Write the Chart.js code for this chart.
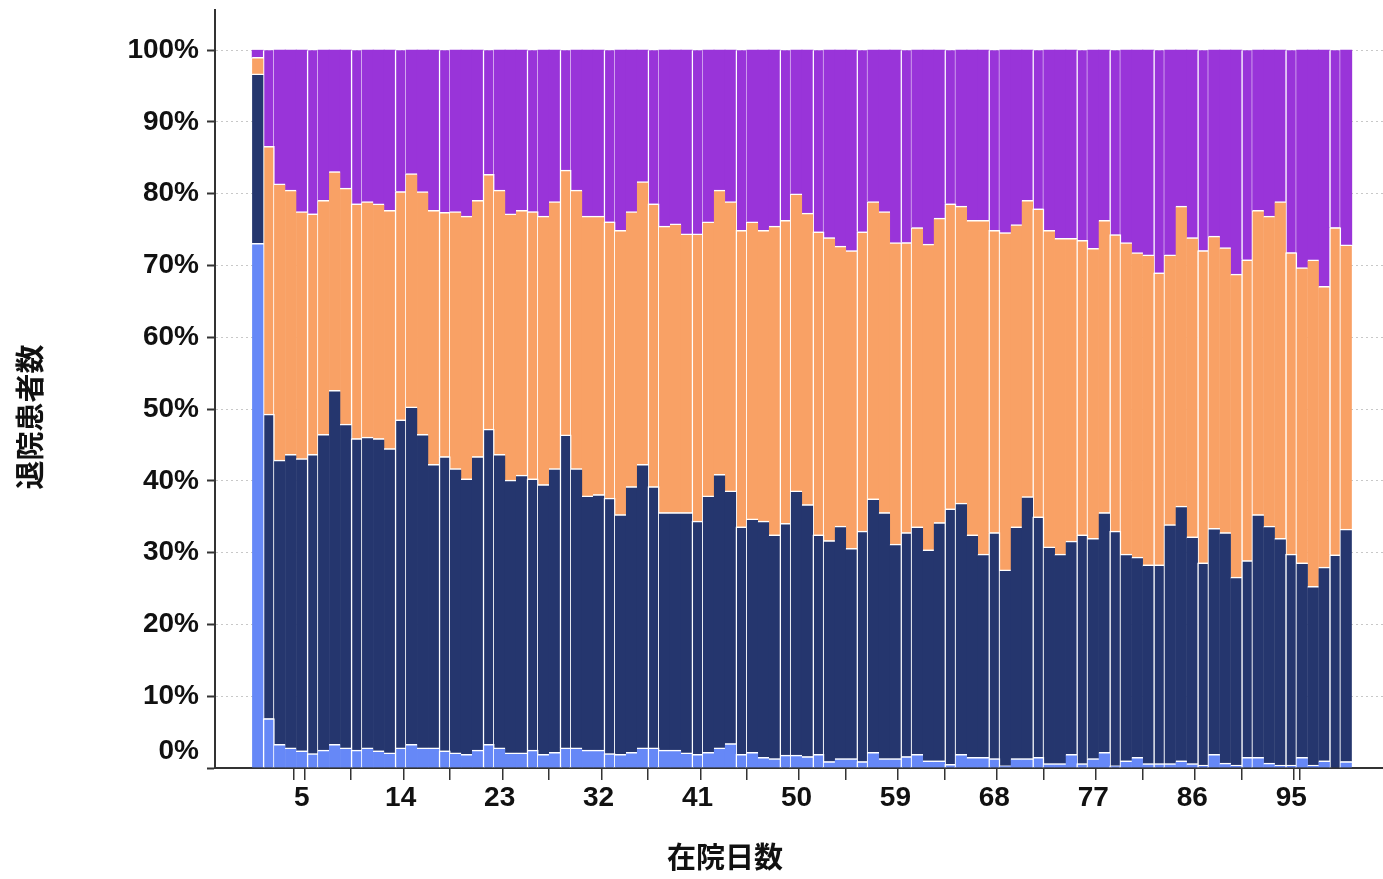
<!DOCTYPE html>
<html lang="ja">
<head>
<meta charset="utf-8">
<title>在院日数別 退院患者数</title>
<script src="https://cdn.jsdelivr.net/npm/chart.js@4.4.1/dist/chart.umd.min.js"></script>
<style>
  html, body { margin: 0; padding: 0; background: #fff; }
</style>
</head>
<body>
<canvas id="chart" width="1383" height="879"></canvas>
<script>
// 在院日数 1..100
const days = [
  1, 2, 3, 4, 5, 6, 7, 8, 9, 10,
  11, 12, 13, 14, 15, 16, 17, 18, 19, 20,
  21, 22, 23, 24, 25, 26, 27, 28, 29, 30,
  31, 32, 33, 34, 35, 36, 37, 38, 39, 40,
  41, 42, 43, 44, 45, 46, 47, 48, 49, 50,
  51, 52, 53, 54, 55, 56, 57, 58, 59, 60,
  61, 62, 63, 64, 65, 66, 67, 68, 69, 70,
  71, 72, 73, 74, 75, 76, 77, 78, 79, 80,
  81, 82, 83, 84, 85, 86, 87, 88, 89, 90,
  91, 92, 93, 94, 95, 96, 97, 98, 99, 100
];
const dayTicks = [5, 14, 23, 32, 41, 50, 59, 68, 77, 86, 95];
const pctTicks = [0, 10, 20, 30, 40, 50, 60, 70, 80, 90, 100];

const xTitle = '在院日数';
const yTitle = '退院患者数';

// share of each group (%) per day
const seriesBlue = [
  73.1, 6.9, 3.3, 2.8, 2.4, 2.0, 2.5, 3.3, 2.8, 2.5,
  2.8, 2.4, 2.1, 2.8, 3.3, 2.8, 2.8, 2.4, 2.1, 1.9,
  2.5, 3.3, 2.8, 2.1, 2.1, 2.5, 1.9, 2.2, 2.8, 2.8,
  2.5, 2.5, 2.0, 1.9, 2.2, 2.8, 2.8, 2.5, 2.5, 2.1,
  1.9, 2.2, 2.8, 3.4, 1.9, 2.2, 1.5, 1.3, 1.8, 1.8,
  1.6, 1.9, 0.9, 1.3, 1.3, 0.9, 2.2, 1.3, 1.3, 1.6,
  1.9, 1.0, 1.0, 0.5, 1.9, 1.5, 1.5, 1.3, 0.3, 1.3,
  1.3, 1.5, 0.6, 0.6, 1.9, 0.6, 1.3, 2.2, 0.3, 1.0,
  1.5, 0.6, 0.6, 0.6, 1.0, 0.6, 0.4, 1.9, 0.7, 0.4,
  1.5, 1.5, 0.7, 0.4, 0.4, 1.5, 0.4, 1.0, 0.0, 0.9
];
const seriesNavy = [
  23.6, 42.4, 39.6, 40.9, 40.7, 41.7, 44.0, 49.3, 45.1, 43.4,
  43.3, 43.5, 42.4, 45.7, 47.0, 43.7, 39.5, 41.0, 39.6, 38.4,
  40.9, 43.9, 40.9, 38.0, 38.7, 37.8, 37.6, 39.5, 43.6, 38.9,
  35.4, 35.6, 35.6, 33.4, 37.0, 39.5, 36.4, 33.1, 33.1, 33.5,
  32.5, 35.7, 38.1, 35.2, 31.7, 32.5, 32.9, 31.2, 32.3, 36.8,
  35.1, 30.6, 30.8, 32.4, 29.3, 32.1, 35.3, 34.3, 29.9, 31.2,
  31.7, 29.4, 33.2, 35.6, 35.0, 31.0, 28.3, 31.5, 27.3, 32.3,
  36.5, 33.5, 30.2, 29.2, 29.7, 31.9, 30.7, 33.4, 32.7, 28.8,
  27.9, 27.7, 27.7, 33.3, 35.5, 31.6, 28.2, 31.5, 32.1, 26.2,
  27.4, 33.8, 33.0, 31.6, 29.4, 27.1, 24.9, 27.0, 29.7, 32.4
];
const seriesOrange = [
  2.3, 37.3, 38.5, 36.8, 34.4, 33.5, 32.6, 30.5, 32.9, 32.7,
  32.8, 32.7, 33.2, 31.8, 32.5, 33.8, 35.4, 34.0, 35.8, 36.6,
  35.7, 35.5, 36.8, 37.1, 36.9, 37.2, 37.4, 37.2, 36.9, 38.8,
  39.0, 38.8, 38.5, 39.6, 38.3, 39.4, 39.4, 39.9, 40.2, 38.8,
  40.0, 38.2, 39.6, 40.3, 41.3, 41.4, 40.5, 43.0, 42.2, 41.4,
  40.6, 42.2, 42.2, 39.0, 41.5, 41.7, 41.4, 41.9, 42.0, 40.4,
  41.7, 42.6, 42.4, 42.5, 41.4, 43.8, 46.5, 42.1, 47.0, 42.1,
  41.3, 42.9, 44.1, 44.0, 42.2, 41.0, 40.4, 40.7, 41.3, 43.4,
  42.4, 43.2, 40.7, 37.6, 41.8, 41.7, 43.5, 40.7, 39.7, 42.2,
  41.9, 42.4, 43.2, 46.9, 42.0, 41.1, 45.5, 39.1, 45.6, 39.6
];
const seriesPurple = [
  1.0, 13.4, 18.6, 19.5, 22.5, 22.8, 20.9, 16.9, 19.2, 21.4,
  21.1, 21.4, 22.3, 19.7, 17.2, 19.7, 22.3, 22.6, 22.5, 23.1,
  20.9, 17.3, 19.5, 22.8, 22.3, 22.5, 23.1, 21.1, 16.7, 19.5,
  23.1, 23.1, 23.9, 25.1, 22.5, 18.3, 21.4, 24.5, 24.2, 25.6,
  25.6, 23.9, 19.5, 21.1, 25.1, 23.9, 25.1, 24.5, 23.7, 20.0,
  22.7, 25.3, 26.1, 27.3, 27.9, 25.3, 21.1, 22.5, 26.8, 26.8,
  24.7, 27.0, 23.4, 21.4, 21.7, 23.7, 23.7, 25.1, 25.4, 24.3,
  20.9, 22.1, 25.1, 26.2, 26.2, 26.5, 27.6, 23.7, 25.7, 26.8,
  28.2, 28.5, 31.0, 28.5, 21.7, 26.1, 27.9, 25.9, 27.5, 31.2,
  29.2, 22.3, 23.1, 21.1, 28.2, 30.3, 29.2, 32.9, 24.7, 27.1
];

// in the original the white bar edges only show up on roughly every 4th bar
const edgedBars = new Set();
for (let n = 0; n < 26; n++) edgedBars.add(Math.ceil(3.846 * n + 0.96));

const tickFont = { family: '"Liberation Sans", Arial, sans-serif', size: 28, weight: 'bold' };
const axisColor = '#333333';

function makeDataset(label, data, color, topEdge) {
    return {
        label,
        data,
        backgroundColor: color,
        borderColor: '#ffffff',
        borderSkipped: 'start',
        borderWidth: (c) => {
            const side = edgedBars.has(c.dataIndex) ? 1.5 : 0;
            return { top: topEdge ? 1.5 : 0, left: side, right: side, bottom: 0 };
        },
        barThickness: 'flex',
        barPercentage: 1.0,
        // slight overlap hides the anti-aliased seams between neighbouring bars
        categoryPercentage: 1.03
    };
}

// axis titles sit a bit off-centre in the original, so they are drawn here
const axisTitles = {
    id: 'axisTitles',
    afterDraw(chart) {
        const { ctx, chartArea } = chart;
        ctx.save();
        ctx.fillStyle = '#111111';
        ctx.font = 'bold 29px "Noto Sans CJK JP", sans-serif';
        ctx.textAlign = 'center';
        ctx.textBaseline = 'middle';
        ctx.fillText(xTitle, chartArea.left + chartArea.width * 0.4366, chartArea.bottom + 89);
        ctx.translate(30, (chartArea.top + chartArea.bottom) / 2 + 28);
        ctx.rotate(-Math.PI / 2);
        ctx.fillText(yTitle, 0, 0);
        ctx.restore();
    }
};

// tick marks sit on both edges of each labelled bar
const xTickValues = [];
dayTicks.forEach(d => { xTickValues.push(d - 0.5, d, d + 0.5); });

new Chart(document.getElementById('chart'), {
    type: 'bar',
    data: {
        labels: days,
        datasets: [
            makeDataset('A', seriesBlue, '#6688f7', true),
            makeDataset('B', seriesNavy, '#25366e', true),
            makeDataset('C', seriesOrange, '#f9a165', true),
            makeDataset('D', seriesPurple, '#9934d9', false)
        ]
    },
    options: {
        responsive: false,
        animation: false,
        devicePixelRatio: 1,
        layout: { padding: { top: 10, right: 0, bottom: 0, left: 0 } },
        plugins: {
            legend: { display: false },
            tooltip: { enabled: false }
        },
        scales: {
            x: {
                type: 'linear',
                stacked: true,
                min: -2.89,
                max: 103.35,
                offset: false,
                afterBuildTicks: (scale) => {
                    scale.ticks = xTickValues.map(v => ({ value: v }));
                },
                afterFit: (scale) => {
                    scale.height = 111;
                    scale.paddingLeft = 0;
                    scale.paddingRight = 0;
                },
                ticks: {
                    autoSkip: false,
                    maxRotation: 0,
                    padding: 1,
                    color: '#111111',
                    font: tickFont,
                    callback: (v) => Number.isInteger(v) ? String(v) : ''
                },
                grid: {
                    drawOnChartArea: false,
                    drawTicks: true,
                    tickLength: 12,
                    lineWidth: 1.5,
                    color: (c) => (c.tick && Number.isInteger(c.tick.value)) ? 'rgba(0,0,0,0)' : axisColor,
                    tickColor: (c) => (c.tick && Number.isInteger(c.tick.value)) ? 'rgba(0,0,0,0)' : axisColor
                },
                border: { color: axisColor, width: 2 }
            },
            y: {
                stacked: true,
                min: 0,
                max: 105.6,
                afterBuildTicks: (scale) => {
                    scale.ticks = pctTicks.map(v => ({ value: v }));
                },
                afterFit: (scale) => {
                    scale.width = 215;
                    scale.paddingTop = 0;
                    scale.paddingBottom = 0;
                },
                ticks: {
                    padding: 8,
                    color: '#111111',
                    font: tickFont,
                    // the 0% label is lifted above the axis in the original
                    callback: (v) => v === 0 ? ['0%', ''] : v + '%'
                },
                grid: {
                    color: '#c8c8c8',
                    lineWidth: 1,
                    tickLength: 8,
                    tickColor: axisColor,
                    tickWidth: 2
                },
                border: { color: axisColor, width: 2, dash: [2, 3] }
            }
        }
    },
    plugins: [axisTitles]
});
</script>
</body>
</html>
